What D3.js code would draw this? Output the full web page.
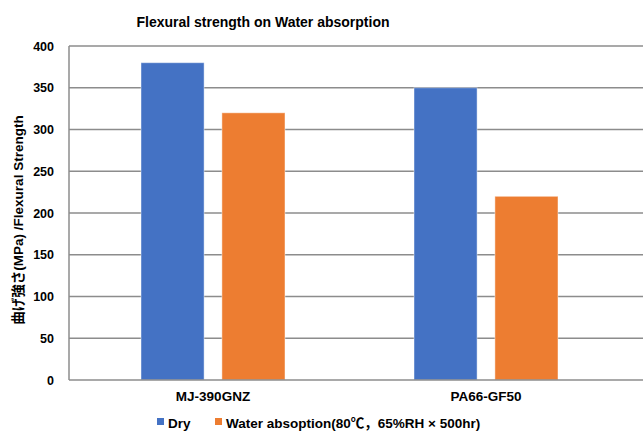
<!DOCTYPE html>
<html><head><meta charset="utf-8">
<script src="https://cdn.jsdelivr.net/npm/d3@7"></script>
<style>
html,body{margin:0;padding:0;background:#fff;}
text{font-family:"Liberation Sans",Arial,"Noto Sans CJK JP",sans-serif;font-weight:bold;fill:#000;}
</style></head>
<body>
<svg id="c" width="643" height="432"></svg>
<script>
const categories = ["MJ-390GNZ", "PA66-GF50"];
const seriesNames = ["Dry", "Water absoption(80℃，65%RH × 500hr)"];
const dryValues = [380, 350];
const wetValues = [320, 220];
const yTicks = [0, 50, 100, 150, 200, 250, 300, 350, 400];
const colors = ["#4472C4", "#ED7D31"];

const svg = d3.select("#c");
const plotLeft = 69, plotRight = 643, plotTop = 46, plotBottom = 380;

const y = d3.scaleLinear().domain([0, 400]).range([plotBottom, plotTop]);
const x0 = d3.scaleBand().domain(categories).range([76.5, 622.5]).padding(0);
const x1 = d3.scaleBand().domain([0, 1]).range([-72, 72]).paddingInner(0.22).paddingOuter(0);

// gridlines
svg.append("g").selectAll("line").data(yTicks.filter(d => d > 0)).join("line")
  .attr("x1", plotLeft).attr("x2", plotRight)
  .attr("y1", d => y(d)).attr("y2", d => y(d))
  .attr("stroke", "#8c8c8c").attr("stroke-width", 1.5);

// bars
const data = categories.map((c, i) => ({ c, vals: [dryValues[i], wetValues[i]] }));
svg.append("g").selectAll("g").data(data).join("g")
  .attr("transform", d => `translate(${x0(d.c) + x0.bandwidth() / 2},0)`)
  .selectAll("rect").data(d => d.vals.map((v, k) => ({ v, k }))).join("rect")
  .attr("x", d => x1(d.k)).attr("width", x1.bandwidth())
  .attr("y", d => y(d.v)).attr("height", d => y(0) - y(d.v))
  .attr("fill", d => colors[d.k])
  .attr("stroke", "rgba(255,255,255,0.45)").attr("stroke-width", 1);

// axes lines
svg.append("line").attr("x1", plotLeft).attr("x2", plotLeft).attr("y1", plotTop).attr("y2", plotBottom)
  .attr("stroke", "#8c8c8c").attr("stroke-width", 1.5);
svg.append("line").attr("x1", plotLeft).attr("x2", plotRight).attr("y1", plotBottom).attr("y2", plotBottom)
  .attr("stroke", "#8c8c8c").attr("stroke-width", 1.5);

// y axis via d3.axisLeft
const yAxis = svg.append("g").attr("transform", `translate(${plotLeft},0)`)
  .call(d3.axisLeft(y).tickValues(yTicks).tickSize(0).tickPadding(15));
yAxis.select(".domain").remove();
yAxis.selectAll("text").style("font-size", "12.5px").style("font-weight", "bold")
  .style("font-family", '"Liberation Sans",Arial,sans-serif').attr("fill", "#000");

// x axis
const xAxis = svg.append("g").attr("transform", `translate(0,${plotBottom})`)
  .call(d3.axisBottom(x0).tickSize(0).tickPadding(11));
xAxis.select(".domain").remove();
xAxis.selectAll("text").style("font-size", "13.5px").style("font-weight", "bold")
  .style("font-family", '"Liberation Sans",Arial,sans-serif').attr("fill", "#000");

// title
svg.append("text").attr("x", 263).attr("y", 27).attr("text-anchor", "middle")
  .style("font-size", "14px").text("Flexural strength on Water absorption");

// y title
svg.append("text").attr("transform", "translate(23,220) rotate(-90)").attr("text-anchor", "middle")
  .style("font-size", "13.5px").text("曲げ強さ(MPa) /Flexural Strength");

// legend
const legX = [157, 215];
const leg = svg.append("g").selectAll("g").data(seriesNames).join("g")
  .attr("transform", (d, i) => `translate(${legX[i]},418)`);
leg.append("rect").attr("width", 7).attr("height", 7).attr("fill", (d, i) => colors[i]);
leg.append("text").attr("x", 11).attr("y", 10).style("font-size", "13.5px").text(d => d);
</script>
</body></html>
